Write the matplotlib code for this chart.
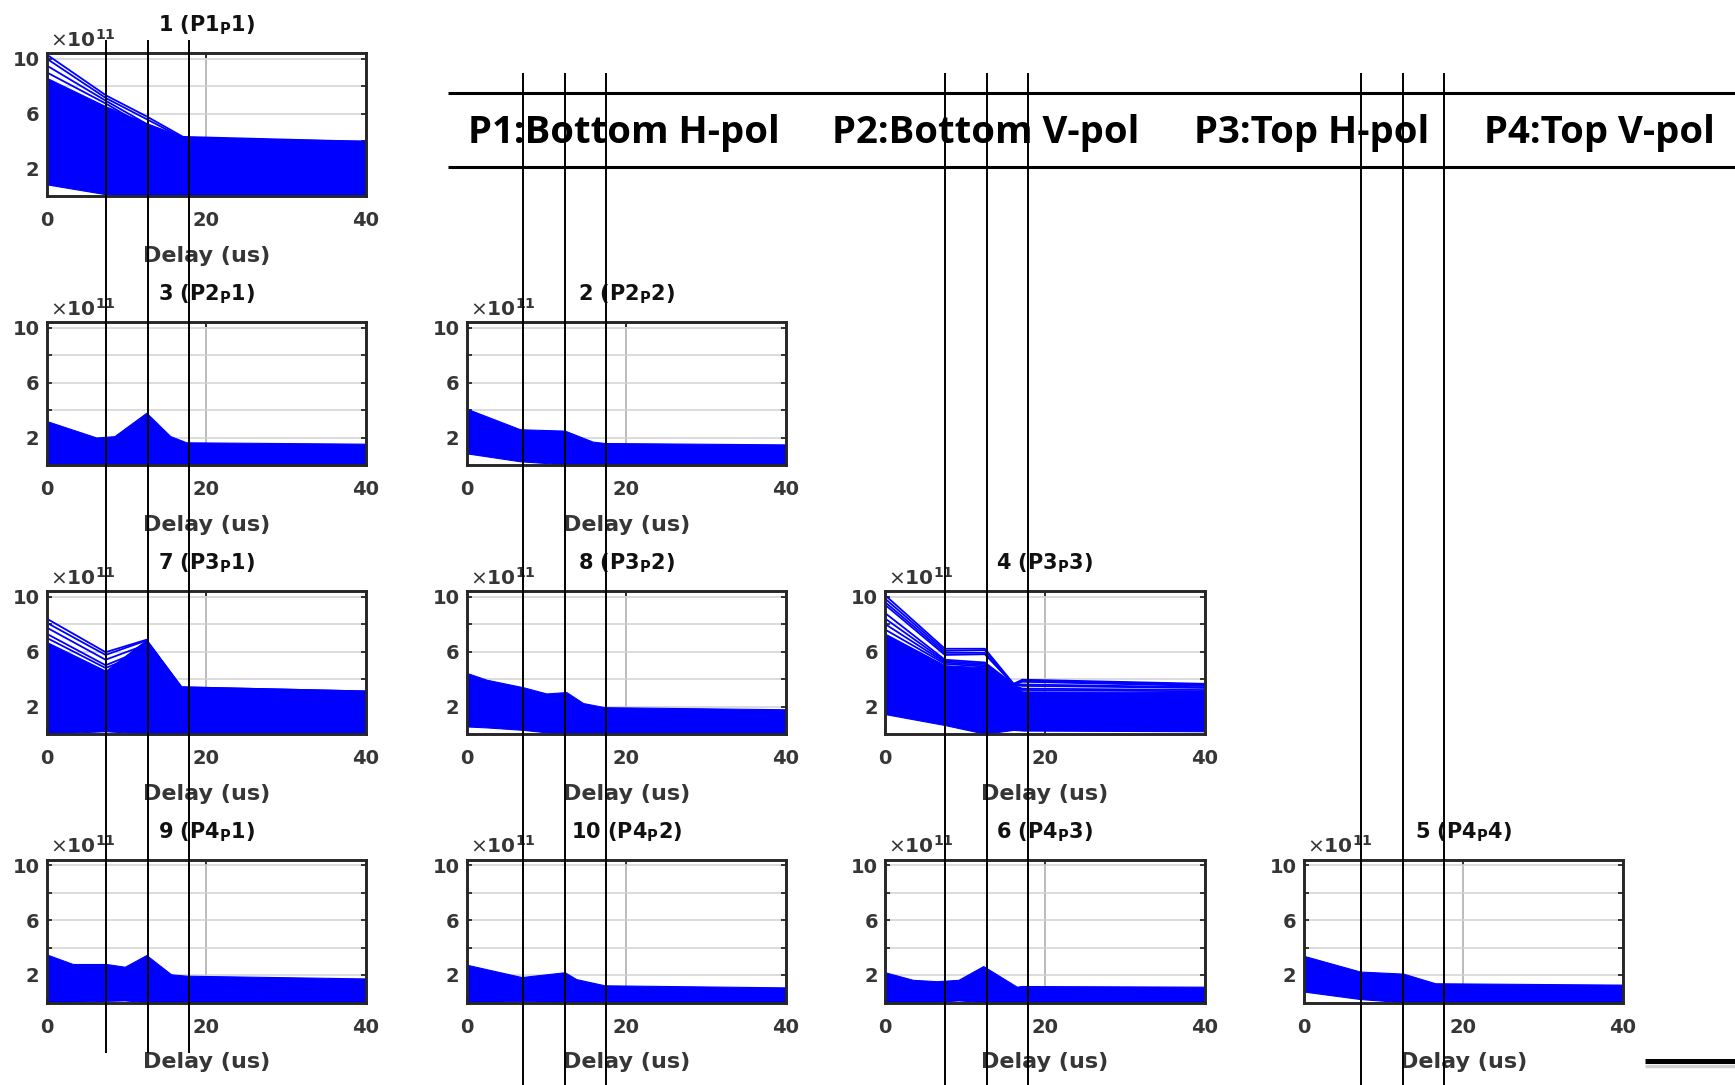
import matplotlib
matplotlib.use("Agg")
import matplotlib.pyplot as plt

# ---------------------------------------------------------------------------
# Power delay profiles (x1e11) for each port pair; delay knots in us.
# Each panel: filled band between lower/upper envelopes plus a few
# individual traces that stand out above the band.
# ---------------------------------------------------------------------------
p1_1_delay = [0, 7.5, 12.5, 17.1, 40]
p1_1_upper = [8.6, 6.5, 5.3, 4.3, 3.95]
p1_1_lower = [0.85, 0.12, 0.02, 0.05, 0.05]
p1_1_traces = [[10.3, 7.3, 5.8, 4.3, 3.95],
               [10.0, 7.1, 5.6, 4.2, 3.95],
               [9.5, 6.9, 5.25, 3.9, 3.9],
               [9.0, 6.7, 5.0, 3.7, 3.85]]

p2_1_delay = [0, 6.25, 8.5, 12.5, 15.5, 17.5, 40]
p2_1_upper = [3.2, 2.0, 2.1, 3.8, 2.1, 1.65, 1.55]
p2_1_lower = [0.03, 0.03, 0.03, 0.03, 0.03, 0.03, 0.03]
p2_1_traces = []

p2_2_delay = [0, 6.7, 12.3, 15.8, 17.3, 40]
p2_2_upper = [4.1, 2.6, 2.5, 1.7, 1.6, 1.5]
p2_2_lower = [0.85, 0.27, 0.05, 0.03, 0.03, 0.03]
p2_2_traces = []

p3_1_delay = [0, 7.4, 12.5, 16.9, 40]
p3_1_upper = [6.7, 4.6, 6.85, 3.4, 3.1]
p3_1_lower = [0.03, 0.2, 0.03, 0.03, 0.03]
p3_1_traces = [[8.4, 5.95, 6.85, 3.4, 3.1],
               [8.1, 5.75, 6.8, 3.4, 3.1],
               [7.75, 5.4, 6.5, 3.35, 3.05],
               [7.3, 5.0, 6.2, 3.3, 3.05],
               [7.0, 4.8, 6.0, 3.3, 3.0]]

p3_2_delay = [0, 2.5, 7.1, 10, 12.5, 14.6, 17.3, 40]
p3_2_upper = [4.45, 3.95, 3.4, 2.95, 3.05, 2.25, 1.95, 1.8]
p3_2_lower = [0.55, 0.48, 0.3, 0.12, 0.03, 0.03, 0.03, 0.03]
p3_2_traces = []

p3_3_delay = [0, 7.5, 12.5, 16.1, 17.2, 40]
p3_3_upper = [7.3, 5.0, 4.85, 3.5, 3.1, 3.05]
p3_3_lower = [1.45, 0.65, 0.02, 0.3, 0.25, 0.2]
p3_3_traces = [[10.1, 6.2, 6.2, 3.65, 3.95, 3.65],
               [9.85, 6.05, 6.1, 3.6, 3.9, 3.6],
               [9.6, 5.9, 5.9, 3.6, 3.85, 3.55],
               [9.4, 5.75, 5.8, 3.6, 3.8, 3.5],
               [8.8, 5.4, 5.2, 3.6, 3.6, 3.4],
               [8.4, 5.3, 5.1, 3.55, 3.5, 3.35],
               [8.0, 5.2, 5.0, 3.5, 3.3, 3.2],
               [7.6, 5.1, 4.9, 3.5, 3.2, 3.1]]

p4_1_delay = [0, 3.3, 7.5, 9.8, 12.5, 15.6, 17.5, 40]
p4_1_upper = [3.5, 2.8, 2.8, 2.6, 3.45, 2.05, 1.95, 1.75]
p4_1_lower = [0.03, 0.05, 0.12, 0.15, 0.03, 0.03, 0.03, 0.03]
p4_1_traces = []

p4_2_delay = [0, 6.9, 12.3, 13.75, 17.3, 40]
p4_2_upper = [2.75, 1.85, 2.2, 1.7, 1.25, 1.1]
p4_2_lower = [0.03, 0.1, 0.03, 0.03, 0.03, 0.03]
p4_2_traces = []

p4_3_delay = [0, 3.5, 6.5, 9.2, 12.3, 16.5, 17.1, 40]
p4_3_upper = [2.2, 1.65, 1.55, 1.65, 2.65, 1.15, 1.2, 1.15]
p4_3_lower = [0.03, 0.03, 0.05, 0.15, 0.03, 0.03, 0.03, 0.03]
p4_3_traces = []

p4_4_delay = [0, 7.1, 12.5, 16.5, 40]
p4_4_upper = [3.4, 2.25, 2.1, 1.4, 1.3]
p4_4_lower = [0.8, 0.25, 0.02, 0.02, 0.02]
p4_4_traces = []

# panel titles
titles = {
    "p1_1": r"1 (P1$_\mathbf{P}$1)",
    "p2_1": r"3 (P2$_\mathbf{P}$1)",
    "p2_2": r"2 (P2$_\mathbf{P}$2)",
    "p3_1": r"7 (P3$_\mathbf{P}$1)",
    "p3_2": r"8 (P3$_\mathbf{P}$2)",
    "p3_3": r"4 (P3$_\mathbf{P}$3)",
    "p4_1": r"9 (P4$_\mathbf{P}$1)",
    "p4_2": r"10 (P4$_\mathbf{P}$2)",
    "p4_3": r"6 (P4$_\mathbf{P}$3)",
    "p4_4": r"5 (P4$_\mathbf{P}$4)",
}

header_labels = ["P1:Bottom H-pol", "P2:Bottom V-pol", "P3:Top H-pol", "P4:Top V-pol"]

x_ticks = [0, 20, 40]
y_ticks = [2, 4, 6, 8, 10]
y_ticklabels = ["2", "", "6", "", "10"]

# ---------------------------------------------------------------------------
# Layout (pixels)
# ---------------------------------------------------------------------------
W, H, DPI = 1735, 1085, 100
col_left = [46.5, 466.5, 885.0, 1303.5]
row_top = [53.0, 322.0, 591.0, 859.5]
ax_w, ax_h = 319.5, 143.0

BLUE = "#0000ff"
AX_COLOR = "#262626"
TXT_COLOR = "#363636"

plt.rcParams["font.family"] = ["DejaVu Sans"]
plt.rcParams["mathtext.fontset"] = "dejavusans"

fig = plt.figure(figsize=(W / DPI, H / DPI), dpi=DPI)
fig.patch.set_facecolor("white")


def px_rect(left, top, w, h):
    return [left / W, 1 - (top + h) / H, w / W, h / H]


def draw_panel(key, row, col):
    delay = globals()[key + "_delay"]
    upper = globals()[key + "_upper"]
    lower = globals()[key + "_lower"]
    traces = globals()[key + "_traces"]

    ax = fig.add_axes(px_rect(col_left[col], row_top[row], ax_w, ax_h))
    ax.set_axisbelow(True)
    ax.fill_between(delay, lower, upper, color=BLUE, edgecolor=BLUE,
                    linewidth=0.8, zorder=2)
    for tr in traces:
        ax.plot(delay, tr, color=BLUE, lw=1.3, zorder=3,
                solid_joinstyle="miter")

    ax.set_xlim(0, 40)
    ax.set_ylim(0, 10.4)
    ax.set_xticks(x_ticks)
    ax.set_xticklabels([str(v) for v in x_ticks])
    ax.set_yticks(y_ticks)
    ax.set_yticklabels(y_ticklabels)

    ax.grid(axis="y", color="#d2d2d2", lw=1.1)
    ax.grid(axis="x", color="#a8a8a8", lw=1.1)

    for s in ax.spines.values():
        s.set_color(AX_COLOR)
        s.set_linewidth(2.1)
        s.set_zorder(5)

    ax.tick_params(axis="both", direction="in", length=3.5, width=1.3,
                   color=AX_COLOR, top=True, right=True,
                   labelsize=14, labelcolor=TXT_COLOR)
    ax.tick_params(axis="x", pad=11)
    ax.tick_params(axis="y", pad=5)
    for lab in ax.get_xticklabels() + ax.get_yticklabels():
        lab.set_fontweight("bold")

    ax.set_xlabel("Delay (us)", fontsize=16, fontweight="bold",
                  color=TXT_COLOR, labelpad=11)
    ax.set_title(titles[key], fontsize=15, fontweight="bold",
                 color="#111111", pad=15.5)
    ax.annotate(r"$\times$10$^{\mathbf{11}}$", xy=(0, 1), xycoords="axes fraction",
                xytext=(2.5, 4.5), textcoords="offset points",
                ha="left", va="baseline", fontsize=14.5, fontweight="bold",
                color=TXT_COLOR)
    return ax


layout = [("p1_1", 0, 0),
          ("p2_1", 1, 0), ("p2_2", 1, 1),
          ("p3_1", 2, 0), ("p3_2", 2, 1), ("p3_3", 2, 2),
          ("p4_1", 3, 0), ("p4_2", 3, 1), ("p4_3", 3, 2), ("p4_4", 3, 3)]

for key, r, c in layout:
    draw_panel(key, r, c)

# ---------------------------------------------------------------------------
# Overlay: header band, delay-marker lines and corner rule
# ---------------------------------------------------------------------------
ov = fig.add_axes([0, 0, 1, 1], zorder=20)
ov.set_xlim(0, W)
ov.set_ylim(H, 0)
ov.axis("off")
ov.patch.set_alpha(0)

ov.plot([448, W], [93, 93], color="black", lw=2.2, solid_capstyle="butt")
ov.plot([448, W], [167, 167], color="black", lw=2.2, solid_capstyle="butt")

header_x = [624, 986, 1312, 1599]
for lab, hx in zip(header_labels, header_x):
    ov.text(hx, 133, lab, ha="center", va="center", fontsize=27.5,
            fontweight="bold", family=["Open Sans", "DejaVu Sans"], color="black")

marker_groups = [([106, 148, 189], 40, 1053),
                 ([523, 565, 605.5], 73, H),
                 ([945, 987, 1028], 73, H),
                 ([1361, 1403, 1444], 73, H)]
for xs, y0, y1 in marker_groups:
    for x in xs:
        ov.plot([x, x], [y0, y1], color="black", lw=1.4, solid_capstyle="butt")

ov.plot([1645, W], [1066, 1066], color="#cfcfcf", lw=2.5, solid_capstyle="butt")
ov.plot([1645, W], [1061, 1061], color="black", lw=3.6, solid_capstyle="butt")

fig.savefig("out.png", dpi=DPI, facecolor="white")
